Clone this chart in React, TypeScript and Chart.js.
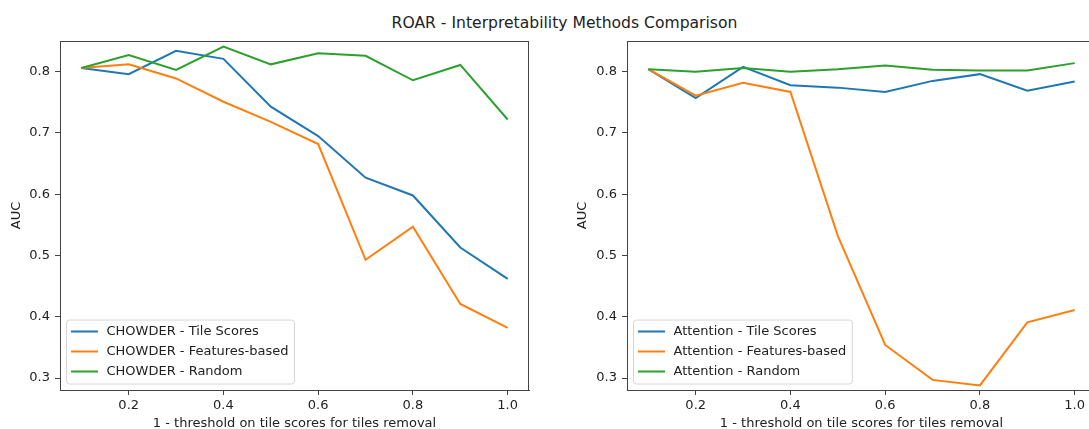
import React, { useEffect, useRef } from "react";
import { Chart, registerables } from "chart.js";

Chart.register(...registerables);

// ---- data ----
const xValues = [0.1, 0.2, 0.3, 0.4, 0.5, 0.6, 0.7, 0.8, 0.9, 1.0];

const chowderTile = [0.806, 0.796, 0.834, 0.821, 0.743, 0.695, 0.627, 0.598, 0.513, 0.462];
const chowderFeatures = [0.806, 0.812, 0.789, 0.751, 0.718, 0.682, 0.493, 0.547, 0.421, 0.382];
const chowderRandom = [0.806, 0.827, 0.803, 0.841, 0.812, 0.830, 0.826, 0.786, 0.811, 0.722];

const attentionTile = [0.804, 0.757, 0.808, 0.778, 0.774, 0.767, 0.785, 0.796, 0.769, 0.784];
const attentionFeatures = [0.804, 0.761, 0.782, 0.767, 0.532, 0.354, 0.297, 0.288, 0.391, 0.411];
const attentionRandom = [0.804, 0.800, 0.806, 0.800, 0.804, 0.810, 0.803, 0.802, 0.802, 0.814];

const chowderLabels = ["CHOWDER - Tile Scores", "CHOWDER - Features-based", "CHOWDER - Random"];
const attentionLabels = ["Attention - Tile Scores", "Attention - Features-based", "Attention - Random"];

const xTicks = [0.2, 0.4, 0.6, 0.8, 1.0];
const yTicks = [0.3, 0.4, 0.5, 0.6, 0.7, 0.8];

const figureTitle = "ROAR - Interpretability Methods Comparison";
const xAxisTitle = "1 - threshold on tile scores for tiles removal";
const yAxisTitle = "AUC";

const seriesColors = ["#1f77b4", "#ff7f0e", "#2ca02c"];

const FONT = "'DejaVu Sans', sans-serif";
const TEXT = "#222222";
const SPINE = "#444444";

const frameLegendPlugin = {
  id: "frameLegend",
  afterDraw(chart: any) {
    const { ctx, chartArea: ca } = chart;
    ctx.save();
    // spines top & right
    ctx.strokeStyle = SPINE;
    ctx.lineWidth = 1;
    ctx.beginPath();
    ctx.moveTo(ca.left, ca.top + 0.5);
    ctx.lineTo(ca.right, ca.top + 0.5);
    ctx.moveTo(ca.right - 0.5, ca.top);
    ctx.lineTo(ca.right - 0.5, ca.bottom);
    ctx.stroke();

    // legend
    const ds = chart.data.datasets;
    ctx.font = `13px ${FONT}`;
    let maxW = 0;
    ds.forEach((d: any) => {
      maxW = Math.max(maxW, ctx.measureText(d.label).width);
    });
    const boxLeft = ca.left + 6.5;
    const boxBottom = ca.bottom - 6;
    const boxTop = boxBottom - 64;
    const textX = boxLeft + 40;
    const boxRight = textX + maxW + 6;
    const r = 3;
    ctx.beginPath();
    ctx.moveTo(boxLeft + r, boxTop);
    ctx.lineTo(boxRight - r, boxTop);
    ctx.arcTo(boxRight, boxTop, boxRight, boxTop + r, r);
    ctx.lineTo(boxRight, boxBottom - r);
    ctx.arcTo(boxRight, boxBottom, boxRight - r, boxBottom, r);
    ctx.lineTo(boxLeft + r, boxBottom);
    ctx.arcTo(boxLeft, boxBottom, boxLeft, boxBottom - r, r);
    ctx.lineTo(boxLeft, boxTop + r);
    ctx.arcTo(boxLeft, boxTop, boxLeft + r, boxTop, r);
    ctx.closePath();
    ctx.fillStyle = "rgba(255,255,255,0.8)";
    ctx.fill();
    ctx.strokeStyle = "#d6d6d6";
    ctx.lineWidth = 1;
    ctx.stroke();

    ds.forEach((d: any, i: number) => {
      const y = boxTop + 12 + i * 20;
      ctx.strokeStyle = d.borderColor;
      ctx.lineWidth = 2;
      ctx.beginPath();
      ctx.moveTo(boxLeft + 4.5, y - 0.5);
      ctx.lineTo(boxLeft + 31.5, y - 0.5);
      ctx.stroke();
      ctx.fillStyle = TEXT;
      ctx.textBaseline = "middle";
      ctx.textAlign = "left";
      ctx.fillText(d.label, textX, y);
    });
    ctx.restore();
  },
};

function makeChart(
  canvas: HTMLCanvasElement,
  series: number[][],
  labels: string[],
  yWidth: number,
  padRight: number,
  yTitlePad: number
) {
  const datasets = series.map((vals, i) => ({
    label: labels[i],
    data: xValues.map((x, j) => ({ x, y: vals[j] })),
    borderColor: seriesColors[i],
    backgroundColor: seriesColors[i],
    borderWidth: 2,
    pointRadius: 0,
    tension: 0,
    fill: false,
    order: series.length - i,
  }));

  return new Chart(canvas, {
    type: "line",
    data: { datasets },
    plugins: [frameLegendPlugin],
    options: {
      animation: false,
      responsive: false,
      events: [],
      layout: { padding: { top: 41, right: padRight, left: 0, bottom: 0 } },
      plugins: {
        legend: { display: false },
        title: { display: false },
        tooltip: { enabled: false },
      },
      scales: {
        x: {
          type: "linear",
          min: 0.055,
          max: 1.045,
          afterBuildTicks: (scale: any) => {
            scale.ticks = xTicks.map((v) => ({ value: v }));
          },
          afterFit: (scale: any) => {
            scale.height = 39;
          },
          ticks: {
            font: { family: FONT, size: 13 },
            color: TEXT,
            padding: 3,
            maxRotation: 0,
            autoSkip: false,
            callback: (v: any) => Number(v).toFixed(1),
          },
          grid: {
            display: true,
            drawOnChartArea: false,
            drawTicks: true,
            tickLength: 5,
            color: SPINE,
            lineWidth: 1,
          },
          border: { display: true, color: SPINE, width: 1 },
          title: {
            display: true,
            text: xAxisTitle,
            color: TEXT,
            font: { family: FONT, size: 13 },
            padding: { top: 0, bottom: -2 },
          },
        },
        y: {
          type: "linear",
          min: 0.2805,
          max: 0.8501,
          afterBuildTicks: (scale: any) => {
            scale.ticks = yTicks.map((v) => ({ value: v }));
          },
          afterFit: (scale: any) => {
            scale.width = yWidth;
          },
          ticks: {
            font: { family: FONT, size: 13 },
            color: TEXT,
            padding: 5,
            autoSkip: false,
            callback: (v: any) => Number(v).toFixed(1),
          },
          grid: {
            display: true,
            drawOnChartArea: false,
            drawTicks: true,
            tickLength: 5,
            color: SPINE,
            lineWidth: 1,
          },
          border: { display: true, color: SPINE, width: 1 },
          title: {
            display: true,
            text: yAxisTitle,
            color: TEXT,
            font: { family: FONT, size: 13 },
            padding: { top: yTitlePad, bottom: 0 },
          },
        },
      },
    } as any,
  });
}

export default function App() {
  const leftRef = useRef<HTMLCanvasElement>(null);
  const rightRef = useRef<HTMLCanvasElement>(null);

  useEffect(() => {
    const left = makeChart(
      leftRef.current!,
      [chowderTile, chowderFeatures, chowderRandom],
      chowderLabels,
      60,
      16,
      9.2
    );
    const right = makeChart(
      rightRef.current!,
      [attentionTile, attentionFeatures, attentionRandom],
      attentionLabels,
      82,
      9,
      30.2
    );
    return () => {
      left.destroy();
      right.destroy();
    };
  }, []);

  return (
    <div
      style={{
        position: "fixed",
        left: 0,
        top: 0,
        width: 1089,
        height: 429,
        overflow: "hidden",
        background: "#ffffff",
      }}
    >
      <div
        style={{
          position: "absolute",
          left: 0,
          top: 16,
          width: 1129,
          textAlign: "center",
          fontFamily: FONT,
          fontSize: "15.6px",
          lineHeight: "15.6px",
          color: TEXT,
          whiteSpace: "nowrap",
        }}
      >
        {figureTitle}
      </div>
      <canvas
        ref={leftRef}
        width={545}
        height={429}
        style={{ position: "absolute", left: 0, top: 0, width: 545, height: 429 }}
      />
      <canvas
        ref={rightRef}
        width={560}
        height={429}
        style={{ position: "absolute", left: 545, top: 0, width: 560, height: 429 }}
      />
    </div>
  );
}
